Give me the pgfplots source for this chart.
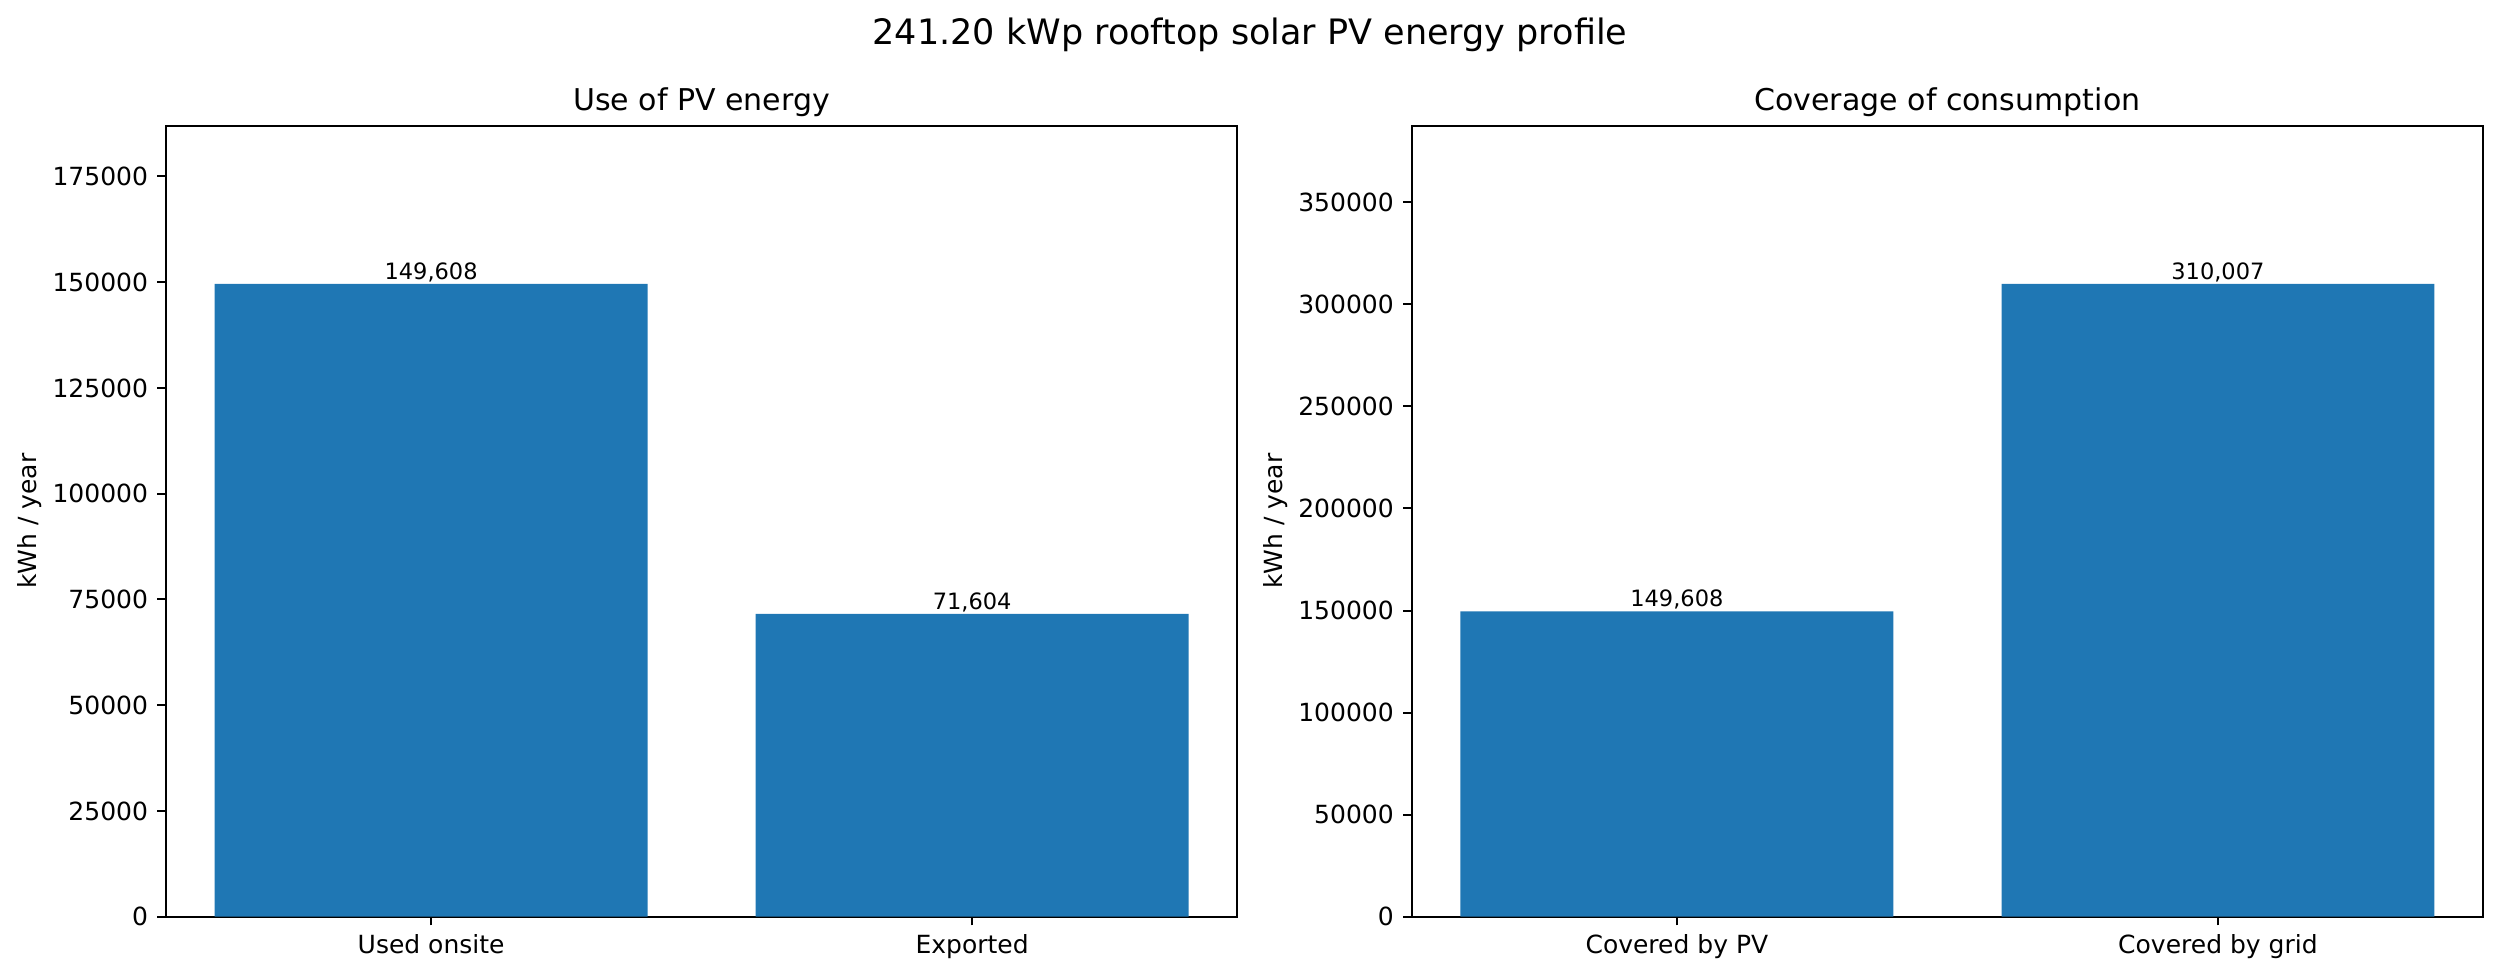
\documentclass[border=0pt]{standalone}
\usepackage{pgfplots}
\pgfplotsset{compat=1.18}
\usepackage{fontspec}
\setmainfont{DejaVu Sans}
\definecolor{mplblue}{RGB}{31,119,180}
\pgfplotsset{
  myaxis/.style={
    anchor=south west,
    width=428.5bp, height=316.4bp, scale only axis,
    xmin=-0.49, xmax=1.49, ymin=0,
    xtick={0,1},
    ybar, bar width=0.8,
    axis line style={line width=0.8bp},
    every tick/.style={black, line width=0.8bp},
    major tick length=3.5bp,
    tick align=outside,
    xtick pos=lower, ytick pos=left,
    minor tick num=0,
    scaled y ticks=false,
    /pgf/number format/assume math mode=true,
    yticklabel style={/pgf/number format/fixed, /pgf/number format/1000 sep={}, /pgf/number format/precision=0, inner sep=0pt, xshift=-3.5bp, font=\fontsize{10bp}{12bp}\selectfont},
    xticklabel style={inner sep=0pt, yshift=-3.5bp, font=\fontsize{10bp}{12bp}\selectfont},
    ylabel style={at={(ticklabel cs:0.5,4bp)}, anchor=south, inner sep=0pt, font=\fontsize{10bp}{12bp}\selectfont},
    title style={at={(0.5,1)}, anchor=base, inner sep=0pt, font=\fontsize{12bp}{14bp}\selectfont},
    nodes near coords,
    point meta=explicit symbolic,
    every node near coord/.append style={anchor=south, inner sep=0pt, yshift=0.5bp, black, font=\fontsize{9bp}{11bp}\selectfont},
  }
}
\begin{document}
\begin{tikzpicture}
\begin{axis}[myaxis, at={(66.4bp,24.12bp)},
  ymax=187010,
  ytick={0,25000,50000,75000,100000,125000,150000,175000},
  xticklabels={Used onsite, Exported},
  ylabel={kWh / year},
  title={Use of PV energy}]
\addplot[fill=mplblue, draw=none] coordinates {(0,149608) [149,608] (1,71604) [71,604]};
\end{axis}
\begin{axis}[myaxis, at={(564.7bp,24.12bp)},
  ymax=387508.75,
  ytick={0,50000,100000,150000,200000,250000,300000,350000},
  xticklabels={Covered by PV, Covered by grid},
  ylabel={kWh / year},
  title={Coverage of consumption}]
\addplot[fill=mplblue, draw=none] coordinates {(0,149608) [149,608] (1,310007) [310,007]};
\end{axis}
\node[anchor=base, inner sep=0pt, font=\fontsize{14bp}{17bp}\selectfont] at (500bp,372.8bp) {241.20 kWp rooftop solar PV energy profile};
\pgfresetboundingbox
\path[use as bounding box] (0,0) rectangle (1000bp,390.8bp);
\end{tikzpicture}
\end{document}
